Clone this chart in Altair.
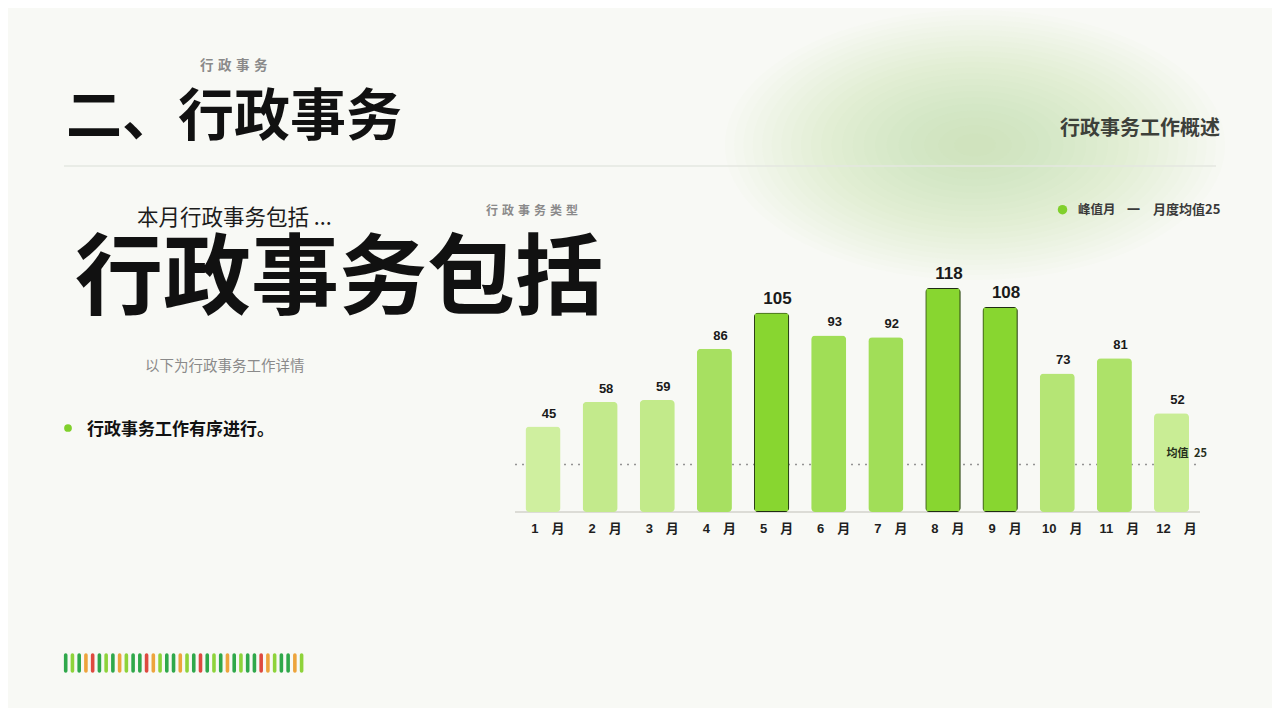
import altair as alt
import pandas as pd

# ---------------- data ----------------
months = ["1\u2003月", "2\u2003月", "3\u2003月", "4\u2003月", "5\u2003月", "6\u2003月",
          "7\u2003月", "8\u2003月", "9\u2003月", "10\u2003月", "11\u2003月", "12\u2003月"]
values = [45, 58, 59, 86, 105, 93, 92, 118, 108, 73, 81, 52]
peak_flags = [False, False, False, False, True, False, False, True, True, False, False, False]
avg_value = 25
stripe_codes = list("DLDORDLDOLDDROLDDOLDRDLDODLDDROLDDOL")
stripe_index = list(range(len(stripe_codes)))

CJK = "Noto Sans CJK SC"
NUM = "Liberation Sans, Noto Sans CJK SC"
OFF = 8  # page margin
TOP_H = 640


def P(v):
    return v - OFF


df = pd.DataFrame({"month": months, "value": values, "peak": peak_flags})
avg_df = pd.DataFrame({"avg": [avg_value], "label": [f"均值\u2002{avg_value}"]})
stripe_df = pd.DataFrame({"i": stripe_index, "c": stripe_codes})


def label(text, x, y, size, color, weight="normal", align="left", font=CJK):
    return alt.Chart(alt.Data(values=[{"k": 1}])).mark_text(
        text=text, fontSize=size, font=font, fontWeight=weight, color=color,
        align=align, baseline="middle"
    ).encode(x=alt.value(P(x)), y=alt.value(P(y)))


# ---------------- background glow ----------------
ellipse = "M-1,0A1,0.54,0,1,1,1,0A1,0.54,0,1,1,-1,0Z"
glow_layers = []
N = 22
for k in range(N, 0, -1):
    s = (k / N) ** 0.8
    glow_layers.append(
        alt.Chart(alt.Data(values=[{"k": 1}])).mark_point(
            shape=ellipse, filled=True, color="#b2e684", opacity=0.022, strokeWidth=0
        ).encode(x=alt.value(P(975)), y=alt.value(P(145)), size=alt.value((500 * s) ** 2))
    )

# ---------------- header / texts ----------------
sep = alt.Chart(alt.Data(values=[{"k": 1}])).mark_rule(color="#e5e7e1", strokeWidth=1.5).encode(
    x=alt.value(P(64)), x2=alt.value(P(1216)), y=alt.value(P(166))
)

texts = [
    label("行\u2004政\u2004事\u2004务", 200, 66, 13.5, "#8a8a8a", weight="bold"),
    label("二、行政事务", 66, 118, 56, "#111111", weight="bold"),
    label("行政事务工作概述", 1220, 129, 20, "#3d403a", weight="bold", align="right"),
    label("本月行政事务包括 ...", 137, 219, 21.5, "#1c1c1c"),
    label("行\u2004政\u2004事\u2004务\u2004类\u2004型", 486, 211, 12, "#8a8a8a", weight="bold"),
    label("行政事务包括", 75, 281, 88, "#111111", weight="bold"),
    label("以下为行政事务工作详情", 145, 367, 14.5, "#8a8a8a"),
    label("行政事务工作有序进行。", 87, 430, 17, "#111111", weight="bold"),
    label("峰值月", 1078, 210, 12.5, "#3a3a3a", weight="bold"),
    label("一", 1133.5, 209.5, 13, "#3a3a3a", weight="bold", align="center"),
    label(f"月度均值{avg_value}", 1153, 210, 13, "#3a3a3a", weight="bold"),
]

dots = [
    alt.Chart(alt.Data(values=[{"k": 1}])).mark_circle(color="#80d02c", opacity=1, size=90).encode(
        x=alt.value(P(1062.5)), y=alt.value(P(209.7))),
    alt.Chart(alt.Data(values=[{"k": 1}])).mark_circle(color="#80d02c", opacity=1, size=60).encode(
        x=alt.value(P(68)), y=alt.value(P(428))),
]

# ---------------- bar chart ----------------
xenc = alt.X("month:N", sort=months,
             scale=alt.Scale(range=[P(514.4), P(1200.1)], paddingInner=0.387, paddingOuter=0.1935),
             axis=None)
yscale = alt.Scale(domain=[0, 118], range=[P(512), P(288)], nice=False, zero=True)

baseline = alt.Chart(avg_df).transform_calculate(zero="0").mark_rule(color="#dcdcd6", strokeWidth=2).encode(
    y=alt.Y("zero:Q", scale=yscale, axis=None), x=alt.value(P(515)), x2=alt.value(P(1200))
)

avg_rule = alt.Chart(avg_df).mark_rule(strokeDash=[2, 5], color="#949494", strokeWidth=1.4).encode(
    y=alt.Y("avg:Q", scale=yscale, axis=None), x=alt.value(P(515)), x2=alt.value(P(1198))
)

bars = alt.Chart(df).mark_bar(cornerRadius=4).encode(
    x=xenc,
    y=alt.Y("value:Q", scale=yscale, axis=None),
    color=alt.condition(
        "datum.peak",
        alt.value("#88d630"),
        alt.Color("value:Q", scale=alt.Scale(domain=[45, 93], range=["#cfef9f", "#a0de56"]), legend=None),
    ),
    stroke=alt.value("#1f2c14"),
    strokeWidth=alt.condition("datum.peak", alt.value(1.8), alt.value(0)),
)

vlabels = alt.Chart(df).mark_text(
    baseline="alphabetic", dy=-9, dx=6, fontWeight="bold", font=NUM, color="#1a1a1a"
).encode(
    x=xenc,
    y=alt.Y("value:Q", scale=yscale, axis=None),
    text=alt.Text("value:Q"),
    size=alt.condition("datum.peak", alt.value(17), alt.value(13)),
)

mlabels = alt.Chart(df).mark_text(
    baseline="middle", dx=5, fontWeight="bold", font=NUM, fontSize=13, color="#1f1f1f"
).encode(x=xenc, y=alt.value(P(529)), text="month:N")

avg_label = alt.Chart(avg_df).mark_text(
    align="right", baseline="middle", dy=-11, fontWeight="bold", font=CJK, fontSize=11, color="#26301c"
).encode(y=alt.Y("avg:Q", scale=yscale, axis=None), x=alt.value(P(1207)), text="label:N")

top = alt.layer(*glow_layers, sep, *texts, *dots,
                baseline, avg_rule, bars, vlabels, mlabels, avg_label).properties(
    width=1264, height=TOP_H
)

# ---------------- stripes (bottom panel) ----------------
stripes = alt.Chart(stripe_df).mark_rule(strokeCap="round", strokeWidth=3.6).encode(
    x=alt.X("i:Q", scale=alt.Scale(domain=[0, len(stripe_codes) - 1], range=[P(65.7), P(301.6)]), axis=None),
    y=alt.value(655 - OFF - TOP_H), y2=alt.value(671 - OFF - TOP_H),
    color=alt.Color("c:N", scale=alt.Scale(domain=["D", "L", "O", "R"],
                                            range=["#2fa84a", "#8ed33a", "#eda43c", "#de4a3f"]), legend=None),
).properties(width=1264, height=60)

chart = alt.vconcat(top, stripes, spacing=0, padding=0).resolve_scale(
    x="independent", color="independent"
).configure(background="#f8f9f5").configure_view(strokeWidth=0)

chart.save("out.html", embed_options={"renderer": "svg", "actions": False})
